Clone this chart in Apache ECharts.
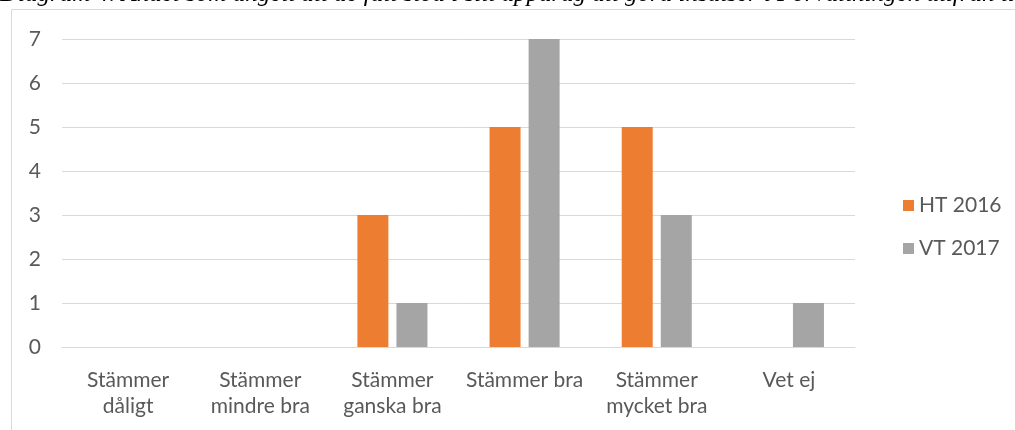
<!DOCTYPE html>
<html>
<head>
<meta charset="utf-8">
<script src="https://cdn.jsdelivr.net/npm/echarts@6/dist/echarts.min.js"></script>
<style>
  html, body { margin: 0; padding: 0; background: #fff; }
  #chart { width: 1015px; height: 430px; }
</style>
</head>
<body>
<div id="chart"></div>
<script>
// kategorier och värden
var categories = ['Stämmer\ndåligt', 'Stämmer\nmindre bra', 'Stämmer\nganska bra', 'Stämmer bra', 'Stämmer\nmycket bra', 'Vet ej'];
var ht2016 = [0, 0, 3, 5, 5, 0];
var vt2017 = [0, 0, 1, 7, 3, 1];
var seriesNames = ['HT 2016', 'VT 2017'];
var yTicks = [0, 7, 1]; // min, max, interval

var font = 'Lato, "Open Sans", sans-serif';

var chartDom = document.getElementById('chart');
var myChart = echarts.init(chartDom);

var option = {
    animation: false,
    graphic: [
        {
            type: 'rect',
            shape: { x: 11.5, y: 9.5, width: 1100, height: 500 },
            style: { fill: 'none', stroke: '#d9d9d9', lineWidth: 1 },
            silent: true
        },
        {
            type: 'text',
            left: 0,
            top: -18,
            style: {
                text: 'Diagram 4. Andel som angett att de fått stöd i sitt uppdrag att göra insatser i Förvaltningen utifrån tid och resurser',
                font: 'italic 25px "Liberation Serif", serif',
                fill: '#000'
            }
        }
    ],
    grid: {
        left: 62,
        right: 160,
        top: 39,
        bottom: 83,
        containLabel: false
    },
    legend: {
        orient: 'vertical',
        left: 898,
        top: 190,
        itemWidth: 11,
        itemHeight: 11,
        itemGap: 22,
        icon: 'rect',
        textStyle: { color: '#595959', fontSize: 21, fontFamily: font }
    },
    xAxis: {
        type: 'category',
        data: categories,
        axisLine: { lineStyle: { color: '#d9d9d9' } },
        axisTick: { show: false },
        axisLabel: {
            color: '#595959',
            fontSize: 21,
            fontFamily: font,
            lineHeight: 26,
            margin: 20,
            interval: 0
        }
    },
    yAxis: {
        type: 'value',
        min: yTicks[0],
        max: yTicks[1],
        interval: yTicks[2],
        axisLine: { show: false },
        axisTick: { show: false },
        axisLabel: { color: '#595959', fontSize: 21, fontFamily: font, margin: 21 },
        splitLine: { lineStyle: { color: '#d9d9d9' } }
    },
    series: [
        {
            name: seriesNames[0],
            type: 'bar',
            data: ht2016,
            barWidth: 31,
            barGap: '26%',
            itemStyle: { color: '#ED7D31' }
        },
        {
            name: seriesNames[1],
            type: 'bar',
            data: vt2017,
            barWidth: 31,
            barGap: '26%',
            itemStyle: { color: '#A5A5A5' }
        }
    ]
};

myChart.setOption(option);
</script>
</body>
</html>
